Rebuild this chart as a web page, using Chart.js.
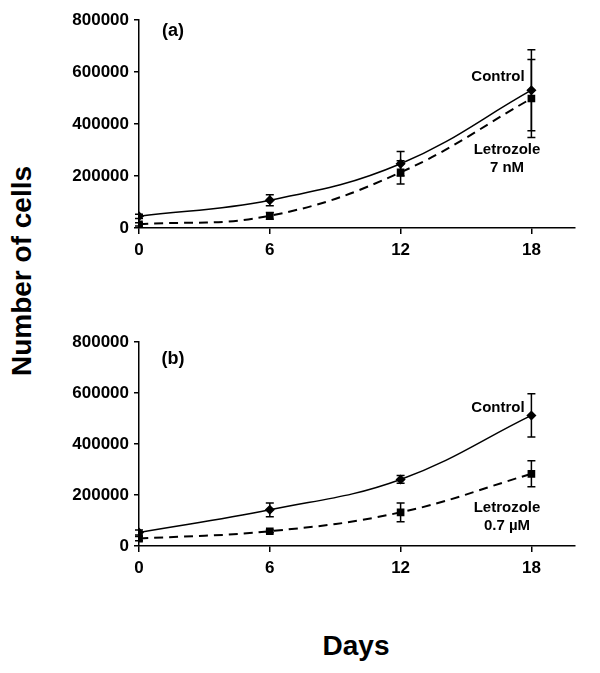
<!DOCTYPE html>
<html>
<head>
<meta charset="utf-8">
<script src="https://cdn.jsdelivr.net/npm/chart.js@4.4.0/dist/chart.umd.min.js"></script>
<style>
  body { margin: 0; background: #fff; width: 600px; height: 673px; position: relative; overflow: hidden; font-family: "Liberation Sans", Arial, sans-serif; }
  .panel { position: absolute; left: 60px; width: 540px; }
  #wrapA { top: 0; height: 262px; }
  #wrapB { top: 322px; height: 258px; }
  #ylab { position: absolute; left: 22px; top: 271px; transform: translate(-50%, -50%) rotate(-90deg); font-weight: bold; font-size: 28px; white-space: nowrap; }
  #xlab { position: absolute; left: 356px; top: 646px; transform: translate(-50%, -50%); font-weight: bold; font-size: 28px; }
</style>
</head>
<body>
<div id="ylab">Number of cells</div>
<div id="xlab">Days</div>
<div class="panel" id="wrapA"><canvas id="chartA"></canvas></div>
<div class="panel" id="wrapB"><canvas id="chartB"></canvas></div>
<script>
// days sampled
const days = [0, 6, 12, 18];
const xTicks = [0, 6, 12, 18];
const yTicks = [0, 200000, 400000, 600000, 800000];

// panel (a): letrozole 7 nM
const controlA = [45000, 107000, 247000, 530000];
const controlAErr = [8000, 21000, 47000, 156000];
const letA = [14000, 47000, 214000, 498000];
const letAErr = [6000, 13000, 45000, 150000];

// panel (b): letrozole 0.7 µM
const controlB = [53000, 142000, 261000, 512000];
const controlBErr = [10000, 27000, 15000, 85000];
const letB = [29000, 58000, 132000, 283000];
const letBErr = [8000, 5000, 37000, 51000];

const FONT = '"Liberation Sans", Arial, sans-serif';

const errorBars = {
  id: 'errorBars',
  afterDatasetsDraw(chart) {
    const { ctx, scales: { x, y } } = chart;
    ctx.save();
    ctx.strokeStyle = '#000';
    ctx.lineWidth = 1.5;
    chart.data.datasets.forEach((ds) => {
      ds.data.forEach((pt, i) => {
        const e = ds.errors[i];
        const px = x.getPixelForValue(pt.x);
        const top = y.getPixelForValue(pt.y + e);
        const bot = y.getPixelForValue(pt.y - e);
        ctx.beginPath();
        ctx.moveTo(px, top); ctx.lineTo(px, bot);
        ctx.moveTo(px - 4, top); ctx.lineTo(px + 4, top);
        ctx.moveTo(px - 4, bot); ctx.lineTo(px + 4, bot);
        ctx.stroke();
      });
    });
    ctx.restore();
  },
};

const notes = {
  id: 'notes',
  afterDraw(chart, args, opts) {
    const { ctx } = chart;
    ctx.save();
    ctx.fillStyle = '#000';
    ctx.textAlign = 'center';
    ctx.textBaseline = 'middle';
    opts.items.forEach((it) => {
      ctx.font = `bold ${it.size}px ${FONT}`;
      ctx.fillText(it.text, it.x, it.y);
    });
    ctx.restore();
  },
};

function pts(vals) {
  return vals.map((v, i) => ({ x: days[i], y: v }));
}

function makePanel(canvasId, control, controlErr, letro, letroErr, items) {
  new Chart(document.getElementById(canvasId), {
    type: 'line',
    data: {
      datasets: [
        {
          label: 'Control',
          data: pts(control),
          errors: controlErr,
          borderColor: '#000',
          backgroundColor: '#000',
          borderWidth: 1.5,
          tension: 0.4,
          pointStyle: 'rectRot',
          pointRadius: 4,
        },
        {
          label: 'Letrozole',
          data: pts(letro),
          errors: letroErr,
          borderColor: '#000',
          backgroundColor: '#000',
          borderWidth: 2,
          borderDash: [9, 6],
          tension: 0.4,
          pointStyle: 'rect',
          pointRadius: 4,
        },
      ],
    },
    options: {
      responsive: true,
      maintainAspectRatio: false,
      animation: false,
      layout: { padding: { top: 20, right: 25, left: 0, bottom: 0 } },
      plugins: {
        legend: { display: false },
        tooltip: { enabled: false },
        notes: { items },
      },
      scales: {
        x: {
          type: 'linear',
          min: 0,
          max: 20,
          afterBuildTicks: (s) => { s.ticks = xTicks.map((v) => ({ value: v })); },
          afterFit: (s) => { s.height = 34; },
          grid: { drawOnChartArea: false, color: '#000', lineWidth: 1.5, tickLength: 6 },
          border: { color: '#000', width: 1.5 },
          ticks: { color: '#000', padding: 6, maxRotation: 0, font: { family: FONT, size: 17, weight: 'bold' } },
        },
        y: {
          min: 0,
          max: 800000,
          afterBuildTicks: (s) => { s.ticks = yTicks.map((v) => ({ value: v })); },
          afterFit: (s) => { s.width = 79; },
          grid: { drawOnChartArea: false, color: '#000', lineWidth: 1.5, tickLength: 5 },
          border: { color: '#000', width: 1.5 },
          ticks: { color: '#000', padding: 5, callback: (v) => String(v), font: { family: FONT, size: 17, weight: 'bold' } },
        },
      },
    },
    plugins: [errorBars, notes],
  });
}

makePanel('chartA', controlA, controlAErr, letA, letAErr, [
  { text: '(a)', x: 113, y: 31, size: 18 },
  { text: 'Control', x: 438, y: 77, size: 15 },
  { text: 'Letrozole', x: 447, y: 150, size: 15 },
  { text: '7 nM', x: 447, y: 168, size: 15 },
]);

makePanel('chartB', controlB, controlBErr, letB, letBErr, [
  { text: '(b)', x: 113, y: 37, size: 18 },
  { text: 'Control', x: 438, y: 86, size: 15 },
  { text: 'Letrozole', x: 447, y: 186, size: 15 },
  { text: '0.7 µM', x: 447, y: 204, size: 15 },
]);
</script>
</body>
</html>
